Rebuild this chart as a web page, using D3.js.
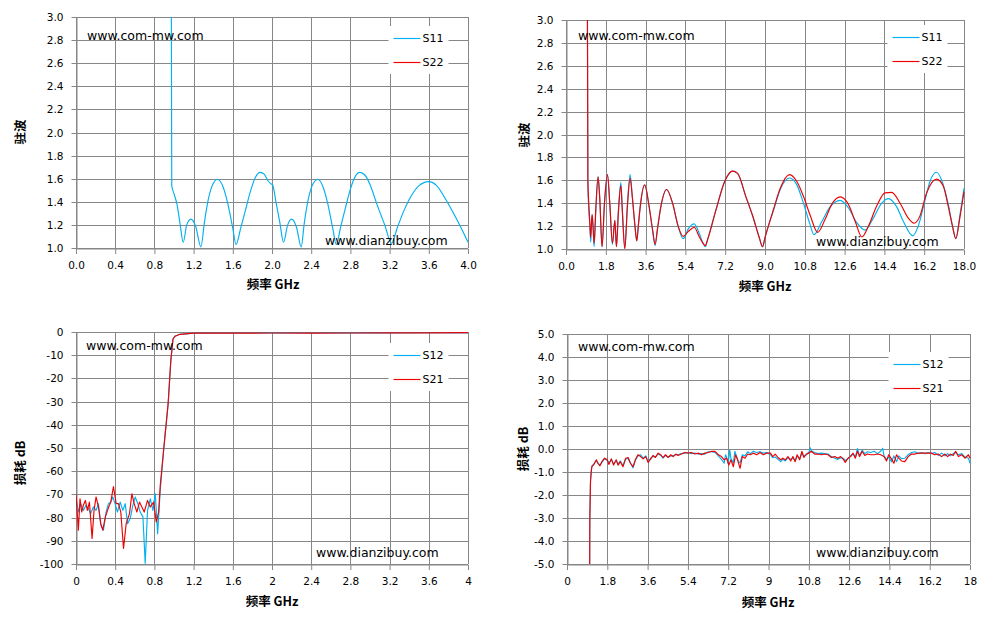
<!DOCTYPE html>
<html>
<head>
<meta charset="utf-8">
<script src="https://cdn.jsdelivr.net/npm/d3@7"></script>
<style>
  body { margin: 0; background: #fff; }
  .tick text { font-family: "DejaVu Sans", Verdana, sans-serif; font-size: 10.5px; fill: #000; }
  .title { font-family: "Noto Sans CJK SC", sans-serif; font-weight: bold; font-size: 12.5px; fill: #000; }
  .mark { font-family: "DejaVu Sans", Verdana, sans-serif; font-size: 12.5px; fill: #000; }
  .legend text { font-family: "DejaVu Sans", Verdana, sans-serif; font-size: 11px; fill: #000; }
</style>
</head>
<body>
<svg id="chart" width="991" height="621"></svg>
<script>
// ---- data ----
// top-left: VSWR 0-4 GHz (only S11 is plotted)
var vswr4S11 = [
  [0.973, 3.0], [0.977, 1.54], [1.0, 1.47], [1.03, 1.38], [1.06, 1.22], [1.094, 1.05],
  [1.13, 1.20], [1.173, 1.25], [1.22, 1.19], [1.275, 1.01],
  [1.31, 1.22], [1.35, 1.42], [1.39, 1.54], [1.445, 1.595], [1.50, 1.53], [1.55, 1.38], [1.60, 1.17], [1.633, 1.03],
  [1.68, 1.17], [1.73, 1.33], [1.78, 1.49], [1.83, 1.61], [1.878, 1.655], [1.92, 1.64], [1.96, 1.58], [1.99, 1.555], [2.005, 1.55],
  [2.04, 1.40], [2.08, 1.22], [2.117, 1.05],
  [2.16, 1.20], [2.2, 1.25], [2.25, 1.18], [2.298, 1.01],
  [2.33, 1.22], [2.37, 1.42], [2.41, 1.54], [2.468, 1.595], [2.52, 1.53], [2.57, 1.38], [2.62, 1.17], [2.656, 1.03],
  [2.70, 1.18], [2.75, 1.35], [2.80, 1.51], [2.85, 1.62], [2.895, 1.655], [2.95, 1.63], [3.0, 1.55], [3.07, 1.38], [3.15, 1.20], [3.22, 1.04],
  [3.28, 1.18], [3.35, 1.33], [3.42, 1.45], [3.5, 1.54], [3.6, 1.575], [3.68, 1.54], [3.76, 1.44], [3.84, 1.32], [3.92, 1.19], [4.0, 1.05]
];
var vswr4S22 = [];

// top-right: VSWR 0-18 GHz
var vswr18S11 = [
  [0.97, 3.0], [0.99, 1.55], [1.03, 1.35], [1.08, 1.2], [1.12, 1.06], [1.18, 1.30], [1.23, 1.17], [1.27, 1.02],
  [1.35, 1.34], [1.45, 1.63], [1.53, 1.43], [1.63, 1.02], [1.74, 1.40], [1.875, 1.65], [1.98, 1.40], [2.1, 1.04],
  [2.21, 1.25], [2.28, 1.02], [2.37, 1.34], [2.48, 1.58], [2.55, 1.34], [2.66, 1.01], [2.78, 1.40], [2.9, 1.65],
  [3.0, 1.46], [3.12, 1.2], [3.2, 1.07], [3.27, 1.2], [3.34, 1.34], [3.56, 1.56], [3.76, 1.37], [3.92, 1.16], [4.03, 1.03],
  [4.14, 1.18], [4.29, 1.37], [4.55, 1.52], [4.82, 1.40], [5.07, 1.2], [5.3, 1.09], [5.54, 1.18], [5.8, 1.22],
  [6.02, 1.14], [6.2, 1.05], [6.3, 1.02], [6.4, 1.08], [6.78, 1.34], [7.2, 1.6], [7.53, 1.68], [7.76, 1.66],
  [8.13, 1.46], [8.44, 1.29], [8.74, 1.1], [8.89, 1.02], [9.0, 1.1], [9.39, 1.34], [9.69, 1.52], [10.11, 1.62],
  [10.44, 1.56], [10.74, 1.4], [11.01, 1.23], [11.22, 1.125], [11.57, 1.24], [11.95, 1.37], [12.4, 1.425],
  [12.77, 1.36], [13.15, 1.23], [13.53, 1.165], [13.9, 1.27], [14.28, 1.40], [14.58, 1.44], [14.95, 1.37],
  [15.26, 1.24], [15.68, 1.115], [15.93, 1.2], [16.23, 1.42], [16.46, 1.59], [16.76, 1.67], [17.03, 1.58],
  [17.29, 1.39], [17.48, 1.2], [17.63, 1.09], [17.81, 1.29], [18.0, 1.53]
];
var vswr18S22 = [
  [0.97, 3.0], [0.99, 1.6], [1.03, 1.4], [1.08, 1.22], [1.11, 1.10], [1.18, 1.30], [1.23, 1.18], [1.27, 1.05],
  [1.35, 1.36], [1.45, 1.63], [1.53, 1.43], [1.63, 1.02], [1.74, 1.40], [1.875, 1.65], [1.98, 1.40], [2.1, 1.05],
  [2.21, 1.25], [2.28, 1.02], [2.37, 1.32], [2.48, 1.555], [2.55, 1.32], [2.66, 1.0], [2.78, 1.38], [2.9, 1.62],
  [3.0, 1.45], [3.12, 1.2], [3.2, 1.07], [3.27, 1.2], [3.34, 1.34], [3.56, 1.56], [3.76, 1.37], [3.92, 1.16], [4.03, 1.04],
  [4.14, 1.18], [4.29, 1.37], [4.55, 1.52], [4.82, 1.40], [5.07, 1.2], [5.3, 1.11], [5.54, 1.155], [5.8, 1.19],
  [6.02, 1.11], [6.2, 1.05], [6.3, 1.03], [6.4, 1.08], [6.78, 1.34], [7.2, 1.6], [7.53, 1.68], [7.76, 1.66],
  [8.13, 1.46], [8.44, 1.29], [8.74, 1.1], [8.89, 1.02], [9.0, 1.1], [9.39, 1.35], [9.69, 1.53], [10.11, 1.65],
  [10.44, 1.59], [10.74, 1.46], [11.05, 1.29], [11.38, 1.145], [11.72, 1.26], [12.02, 1.39], [12.4, 1.455],
  [12.77, 1.39], [13.08, 1.24], [13.38, 1.105], [13.68, 1.2], [14.05, 1.375], [14.43, 1.49], [14.73, 1.495],
  [15.11, 1.4], [15.48, 1.27], [15.74, 1.225], [16.0, 1.285], [16.31, 1.49], [16.76, 1.61], [17.06, 1.55],
  [17.29, 1.37], [17.48, 1.2], [17.63, 1.09], [17.81, 1.27], [18.0, 1.5]
];

// bottom-left: insertion loss 0-4 GHz
var loss4S12 = [
  [0, -71], [0.024, -77.6], [0.048, -74], [0.075, -76.9], [0.102, -74.7], [0.126, -76.1], [0.15, -78.3],
  [0.177, -75.4], [0.205, -76.9], [0.229, -74], [0.253, -83.3], [0.28, -85.4], [0.307, -77.6], [0.331, -74],
  [0.355, -73.3], [0.375, -71.1], [0.399, -74], [0.423, -77.6], [0.451, -73.3], [0.478, -76.9], [0.502, -74],
  [0.526, -82.6], [0.553, -80.4], [0.58, -74.7], [0.604, -71.1], [0.631, -74], [0.655, -77.6], [0.683, -79.7],
  [0.706, -99.7], [0.73, -76.9], [0.758, -71.9], [0.785, -76.9], [0.809, -69.7], [0.833, -86.9], [0.86, -68],
  [0.896, -50], [0.94, -31], [0.968, -12], [0.99, -3], [1.01, -1.8], [1.06, -1.0], [1.2, -0.5], [1.6, -0.45],
  [2.0, -0.4], [2.4, -0.45], [2.8, -0.4], [3.2, -0.35], [3.6, -0.3], [4.0, -0.4]
];
var loss4S21 = [
  [0, -70], [0.024, -85.4], [0.041, -71.9], [0.058, -77.6], [0.075, -74.7], [0.096, -72.6], [0.116, -76.9],
  [0.137, -73.3], [0.164, -89], [0.184, -76.9], [0.205, -71.1], [0.229, -75.4], [0.253, -82.6], [0.273, -85.4],
  [0.3, -79.7], [0.331, -75.7], [0.355, -73.3], [0.382, -66.6], [0.41, -74], [0.433, -74], [0.457, -77.6],
  [0.485, -93.3], [0.512, -82.6], [0.546, -78.3], [0.57, -69.7], [0.594, -74], [0.621, -77.6], [0.648, -73.3],
  [0.672, -75.4], [0.696, -77.6], [0.73, -72.6], [0.758, -75.4], [0.792, -73.3], [0.819, -81.9], [0.843, -77.6],
  [0.86, -66], [0.896, -50], [0.94, -31], [0.968, -12], [0.99, -3], [1.01, -1.8], [1.06, -1.0], [1.2, -0.5],
  [1.6, -0.5], [2.0, -0.45], [2.4, -0.5], [2.8, -0.45], [3.2, -0.4], [3.6, -0.35], [4.0, -0.3]
];

// bottom-right: insertion loss 0-18 GHz
var loss18S12 = [
  [0.99, -12], [1.02, -3.0], [1.05, -1.4], [1.08, -1.0], [1.11, -0.75], [1.2, -0.65], [1.31, -0.5], [1.38, -0.6],
  [1.47, -0.7], [1.56, -0.58], [1.68, -0.42], [1.8, -0.5], [1.87, -0.62], [1.98, -0.45], [2.08, -0.65], [2.2, -0.5],
  [2.28, -0.66], [2.38, -0.52], [2.5, -0.72], [2.62, -0.45], [2.73, -0.4], [2.83, -0.6], [2.95, -0.82], [3.05, -0.5],
  [3.17, -0.3], [3.29, -0.25], [3.4, -0.4], [3.52, -0.3], [3.62, -0.55], [3.74, -0.4], [3.84, -0.32], [3.95, -0.33],
  [4.07, -0.22], [4.19, -0.28], [4.29, -0.4], [4.4, -0.28], [4.52, -0.35], [4.64, -0.3], [4.74, -0.3], [4.86, -0.25],
  [4.96, -0.25], [5.11, -0.2], [5.26, -0.18], [5.41, -0.15], [5.56, -0.2], [5.71, -0.18], [5.86, -0.22], [6.01, -0.2],
  [6.16, -0.22], [6.31, -0.12], [6.46, -0.12], [6.61, -0.15], [6.76, -0.3], [6.9, -0.45], [7.02, -0.62], [7.08, -0.25],
  [7.13, -0.35], [7.2, -0.65], [7.27, -0.05], [7.32, -0.4], [7.43, -0.6], [7.5, -0.1], [7.58, -0.35], [7.66, -0.55],
  [7.73, -0.6], [7.83, -0.25], [7.95, -0.3], [8.07, -0.12], [8.19, -0.2], [8.32, -0.1], [8.47, -0.15], [8.62, -0.12],
  [8.77, -0.18], [8.92, -0.15], [9.09, -0.25], [9.19, -0.38], [9.3, -0.35], [9.42, -0.45], [9.54, -0.55], [9.64, -0.45],
  [9.75, -0.52], [9.87, -0.38], [9.99, -0.45], [10.09, -0.4], [10.19, -0.5], [10.28, -0.3], [10.39, -0.42], [10.49, -0.2],
  [10.58, -0.3], [10.69, -0.25], [10.81, -0.12], [10.87, 0.05], [10.91, -0.08], [11.06, -0.15], [11.21, -0.2],
  [11.36, -0.18], [11.51, -0.2], [11.66, -0.22], [11.81, -0.33], [11.96, -0.4], [12.1, -0.45], [12.22, -0.38],
  [12.33, -0.4], [12.43, -0.5], [12.55, -0.42], [12.67, -0.28], [12.78, -0.22], [12.88, -0.35], [12.97, 0.02],
  [13.07, -0.3], [13.18, -0.05], [13.3, -0.2], [13.42, -0.12], [13.57, -0.15], [13.72, -0.1], [13.87, -0.2],
  [14.01, -0.1], [14.1, 0.03], [14.16, -0.3], [14.27, -0.45], [14.37, -0.35], [14.49, -0.55], [14.6, -0.3],
  [14.72, -0.55], [14.82, -0.3], [14.94, -0.42], [15.09, -0.4], [15.24, -0.25], [15.39, -0.15], [15.54, -0.12],
  [15.69, -0.2], [15.84, -0.15], [15.99, -0.2], [16.13, -0.15], [16.28, -0.2], [16.43, -0.15], [16.58, -0.28],
  [16.73, -0.18], [16.88, -0.3], [17.0, -0.2], [17.12, -0.3], [17.25, -0.2], [17.36, -0.15], [17.48, -0.25],
  [17.63, -0.2], [17.78, -0.35], [17.93, -0.4], [18.0, -0.62]
];
var loss18S21 = [
  [0.99, -12], [1.02, -3.0], [1.05, -1.4], [1.08, -1.0], [1.11, -0.77], [1.2, -0.67], [1.31, -0.47], [1.38, -0.62],
  [1.47, -0.73], [1.56, -0.55], [1.68, -0.4], [1.8, -0.47], [1.87, -0.67], [1.98, -0.43], [2.08, -0.7], [2.2, -0.47],
  [2.28, -0.7], [2.38, -0.55], [2.5, -0.77], [2.62, -0.4], [2.73, -0.37], [2.83, -0.62], [2.95, -0.77], [3.05, -0.47],
  [3.17, -0.25], [3.29, -0.33], [3.4, -0.43], [3.52, -0.33], [3.62, -0.58], [3.74, -0.43], [3.84, -0.28], [3.95, -0.37],
  [4.07, -0.18], [4.19, -0.25], [4.29, -0.37], [4.4, -0.25], [4.52, -0.37], [4.64, -0.25], [4.74, -0.33], [4.86, -0.22],
  [4.96, -0.28], [5.11, -0.22], [5.26, -0.15], [5.41, -0.18], [5.56, -0.15], [5.71, -0.22], [5.86, -0.18], [6.01, -0.25],
  [6.16, -0.18], [6.31, -0.15], [6.46, -0.1], [6.61, -0.1], [6.76, -0.25], [6.9, -0.33], [7.02, -0.47], [7.13, -0.4],
  [7.23, -0.7], [7.32, -0.47], [7.43, -0.77], [7.53, -0.25], [7.62, -0.47], [7.73, -0.84], [7.83, -0.33], [7.95, -0.4],
  [8.07, -0.22], [8.19, -0.25], [8.32, -0.18], [8.47, -0.25], [8.62, -0.15], [8.77, -0.25], [8.92, -0.18], [9.09, -0.18],
  [9.19, -0.33], [9.3, -0.22], [9.42, -0.37], [9.54, -0.47], [9.64, -0.4], [9.75, -0.47], [9.87, -0.33], [9.99, -0.52],
  [10.09, -0.33], [10.19, -0.55], [10.28, -0.25], [10.39, -0.47], [10.49, -0.1], [10.58, -0.37], [10.69, -0.22],
  [10.81, -0.18], [10.91, -0.1], [11.06, -0.22], [11.21, -0.22], [11.36, -0.25], [11.51, -0.22], [11.66, -0.25],
  [11.81, -0.37], [11.96, -0.33], [12.1, -0.4], [12.22, -0.33], [12.33, -0.43], [12.43, -0.58], [12.55, -0.4],
  [12.67, -0.33], [12.78, -0.18], [12.88, -0.4], [12.97, -0.1], [13.07, -0.33], [13.18, -0.1], [13.3, -0.28],
  [13.42, -0.22], [13.57, -0.25], [13.72, -0.25], [13.87, -0.22], [14.01, -0.25], [14.16, -0.33], [14.27, -0.52],
  [14.37, -0.25], [14.49, -0.43], [14.6, -0.62], [14.72, -0.25], [14.82, -0.4], [14.94, -0.52], [15.09, -0.55],
  [15.24, -0.33], [15.39, -0.22], [15.54, -0.22], [15.69, -0.18], [15.84, -0.18], [15.99, -0.18], [16.13, -0.18],
  [16.28, -0.18], [16.43, -0.25], [16.58, -0.22], [16.73, -0.33], [16.88, -0.22], [17.0, -0.33], [17.12, -0.22],
  [17.25, -0.28], [17.36, -0.1], [17.48, -0.33], [17.63, -0.25], [17.78, -0.4], [17.93, -0.25], [18.0, -0.4]
];

// ticks
var x4Ticks = [0, 0.4, 0.8, 1.2, 1.6, 2.0, 2.4, 2.8, 3.2, 3.6, 4.0];
var x4LabelsA = ["0.0", "0.4", "0.8", "1.2", "1.6", "2.0", "2.4", "2.8", "3.2", "3.6", "4.0"];
var x4LabelsB = ["0", "0.4", "0.8", "1.2", "1.6", "2", "2.4", "2.8", "3.2", "3.6", "4"];
var x18Ticks = [0, 1.8, 3.6, 5.4, 7.2, 9.0, 10.8, 12.6, 14.4, 16.2, 18.0];
var x18LabelsA = ["0.0", "1.8", "3.6", "5.4", "7.2", "9.0", "10.8", "12.6", "14.4", "16.2", "18.0"];
var x18LabelsB = ["0", "1.8", "3.6", "5.4", "7.2", "9", "10.8", "12.6", "14.4", "16.2", "18"];
var vswrTicks = [1.0, 1.2, 1.4, 1.6, 1.8, 2.0, 2.2, 2.4, 2.6, 2.8, 3.0];
var vswrLabels = ["1.0", "1.2", "1.4", "1.6", "1.8", "2.0", "2.2", "2.4", "2.6", "2.8", "3.0"];
var loss100Ticks = [0, -10, -20, -30, -40, -50, -60, -70, -80, -90, -100];
var loss100Labels = ["0", "-10", "-20", "-30", "-40", "-50", "-60", "-70", "-80", "-90", "-100"];
var loss5Ticks = [5, 4, 3, 2, 1, 0, -1, -2, -3, -4, -5];
var loss5Labels = ["5.0", "4.0", "3.0", "2.0", "1.0", "0.0", "-1.0", "-2.0", "-3.0", "-4.0", "-5.0"];

var blue = "#00b0f0", red = "#f00000", gridColor = "#878787";

var panels = [
  { id: "p1", left: 76, right: 468, top: 17, bottom: 248, xDomain: [0, 4], yDomain: [1, 3],
    xTicks: x4Ticks, xLabels: x4LabelsA, yTicks: vswrTicks, yLabels: vswrLabels,
    series: [vswr4S11, vswr4S22], names: ["S11", "S22"], curve: d3.curveMonotoneX,
    yTitle: "驻波", yTitleX: 19, yTitleY: 132, xTitleX: 273, xTitleY: 289,
    legendX: 388.5, legendY: 26, mark1: [87, 40], mark2: [325, 245] },
  { id: "p2", left: 566, right: 964, top: 20, bottom: 249, xDomain: [0, 18], yDomain: [1, 3],
    xTicks: x18Ticks, xLabels: x18LabelsA, yTicks: vswrTicks, yLabels: vswrLabels,
    series: [vswr18S11, vswr18S22], names: ["S11", "S22"], curve: d3.curveMonotoneX,
    yTitle: "驻波", yTitleX: 523, yTitleY: 135, xTitleX: 765, xTitleY: 291,
    legendX: 887.5, legendY: 25, mark1: [578, 40], mark2: [816, 245.5] },
  { id: "p3", left: 76, right: 468, top: 332, bottom: 564, xDomain: [0, 4], yDomain: [-100, 0],
    xTicks: x4Ticks, xLabels: x4LabelsB, yTicks: loss100Ticks, yLabels: loss100Labels,
    series: [loss4S12, loss4S21], names: ["S12", "S21"], curve: d3.curveLinear,
    yTitle: "损耗 dB", yTitleX: 19, yTitleY: 463, xTitleX: 272, xTitleY: 606,
    legendX: 388.5, legendY: 343, mark1: [86, 350], mark2: [316, 556.5] },
  { id: "p4", left: 567, right: 970, top: 334, bottom: 564, xDomain: [0, 18], yDomain: [-5, 5],
    xTicks: x18Ticks, xLabels: x18LabelsB, yTicks: loss5Ticks, yLabels: loss5Labels,
    series: [loss18S12, loss18S21], names: ["S12", "S21"], curve: d3.curveLinear,
    yTitle: "损耗 dB", yTitleX: 522, yTitleY: 449, xTitleX: 768, xTitleY: 606.5,
    legendX: 888.5, legendY: 352, mark1: [578, 350.5], mark2: [816, 556.5] }
];

var svg = d3.select("#chart");
var colors = [blue, red];

panels.forEach(function(p) {
  var x = d3.scaleLinear().domain(p.xDomain).range([p.left, p.right]);
  var y = d3.scaleLinear().domain(p.yDomain).range([p.bottom, p.top]);
  var g = svg.append("g");

  // grid lines
  g.append("g").selectAll("line").data(p.xTicks).enter().append("line")
    .attr("x1", function(d) { return Math.round(x(d)) + 0.5; })
    .attr("x2", function(d) { return Math.round(x(d)) + 0.5; })
    .attr("y1", p.top).attr("y2", p.bottom)
    .attr("stroke", gridColor).attr("stroke-width", 1);
  g.append("g").selectAll("line").data(p.yTicks).enter().append("line")
    .attr("y1", function(d) { return Math.round(y(d)) + 0.5; })
    .attr("y2", function(d) { return Math.round(y(d)) + 0.5; })
    .attr("x1", p.left).attr("x2", p.right)
    .attr("stroke", gridColor).attr("stroke-width", 1);

  // axes
  var xAxis = g.append("g")
    .attr("transform", "translate(0," + (Math.round(p.bottom) + 0.5) + ")")
    .call(d3.axisBottom(x).tickValues(p.xTicks)
      .tickFormat(function(d, i) { return p.xLabels[i]; })
      .tickSize(5).tickSizeOuter(0).tickPadding(8));
  var yAxis = g.append("g")
    .attr("transform", "translate(" + (Math.round(p.left) + 0.5) + ",0)")
    .call(d3.axisLeft(y).tickValues(p.yTicks)
      .tickFormat(function(d, i) { return p.yLabels[i]; })
      .tickSize(5).tickSizeOuter(0).tickPadding(8));
  [xAxis, yAxis].forEach(function(a) {
    a.select(".domain").attr("stroke", gridColor);
    a.selectAll(".tick line").attr("stroke", gridColor);
    a.selectAll(".tick").attr("transform", function() {
      return d3.select(this).attr("transform").replace(/([0-9.]+)\)/, function(m, v) {
        return (Math.round(parseFloat(v) - 0.5) + 0.5) + ")";
      });
    });
  });

  // clip
  svg.append("clipPath").attr("id", "clip-" + p.id)
    .append("rect").attr("x", p.left).attr("y", p.top)
    .attr("width", p.right - p.left + 1).attr("height", p.bottom - p.top);

  var line = d3.line()
    .x(function(d) { return x(d[0]); })
    .y(function(d) { return y(d[1]); })
    .curve(p.curve);

  var plot = g.append("g").attr("clip-path", "url(#clip-" + p.id + ")");
  p.series.forEach(function(s, i) {
    if (!s.length) return;
    plot.append("path").datum(s)
      .attr("d", line)
      .attr("fill", "none")
      .attr("stroke", colors[i])
      .attr("stroke-width", 1.15)
      .attr("stroke-linejoin", "round");
  });

  // watermarks
  g.append("text").attr("class", "mark").attr("x", p.mark1[0]).attr("y", p.mark1[1]).text("www.com-mw.com");
  g.append("text").attr("class", "mark").attr("x", p.mark2[0]).attr("y", p.mark2[1]).text("www.dianzibuy.com");

  // axis titles
  g.append("text").attr("class", "title")
    .attr("x", p.xTitleX).attr("y", p.xTitleY)
    .attr("text-anchor", "middle").text("频率 GHz");
  g.append("text").attr("class", "title")
    .attr("transform", "translate(" + p.yTitleX + "," + p.yTitleY + ") rotate(-90)")
    .attr("text-anchor", "middle").attr("dominant-baseline", "central")
    .text(p.yTitle);

  // legend
  var lg = g.append("g").attr("class", "legend")
    .attr("transform", "translate(" + p.legendX + "," + p.legendY + ")");
  lg.append("rect").attr("width", 60).attr("height", 48).attr("fill", "#fff");
  p.names.forEach(function(n, i) {
    var ly = 12.5 + i * 24;
    lg.append("line").attr("x1", 5).attr("x2", 32).attr("y1", ly).attr("y2", ly)
      .attr("stroke", colors[i]).attr("stroke-width", 1.15);
    lg.append("text").attr("x", 34).attr("y", ly).attr("dy", "0.36em").text(n);
  });
});
</script>
</body>
</html>
